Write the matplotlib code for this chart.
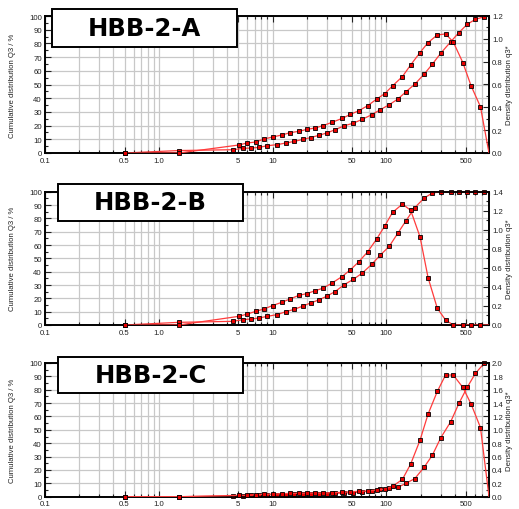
import matplotlib
matplotlib.use('Agg')
import matplotlib.pyplot as plt
from matplotlib.ticker import FixedLocator, NullFormatter, MultipleLocator, LogLocator, FixedFormatter, FormatStrFormatter
from matplotlib.patches import Rectangle

plt.rcParams['font.family'] = ['Liberation Sans', 'DejaVu Sans']

# ---------------- data ----------------
x_ticks = [0.1, 0.5, 1.0, 5, 10, 50, 100, 500]
x_tick_labels = ['0.1', '0.5', '1.0', '5', '10', '50', '100', '500']

panel_titles = ['HBB-2-A', 'HBB-2-B', 'HBB-2-C']
density_max = [1.2, 1.4, 2.0]

# particle size (um) for density q3* points and cumulative Q3 points
dens_x = [0.5, 1.5, 5.05, 6.0, 7.1, 8.4, 10.0, 12.0, 14.3, 17.1, 20.1, 23.4, 27.7, 33.2,
          40.9, 48.3, 57.2, 68.6, 82.2, 97.2, 113.5, 138.8, 164, 198, 233, 281, 332,
          388, 471, 557, 673, 800]
cum_x = [0.5, 1.5, 4.5, 5.5, 6.5, 7.6, 9.0, 11.0, 13.1, 15.6, 18.6, 21.6, 25.5, 30.0,
         35.5, 42.8, 51.4, 61.2, 74.3, 88.5, 106, 126, 149, 178, 215, 254, 301,
         368, 435, 514, 608, 729]

dens_A = [0.0, 0.0, 0.070, 0.088, 0.096, 0.122, 0.140, 0.157, 0.178, 0.190, 0.207, 0.218,
          0.239, 0.268, 0.303, 0.338, 0.370, 0.414, 0.472, 0.521, 0.588, 0.670, 0.772,
          0.880, 0.967, 1.034, 1.043, 0.973, 0.792, 0.588, 0.405, 0.0]
cum_A = [0.0, 1.8, 2.4, 3.4, 3.6, 4.1, 5.3, 6.1, 7.3, 8.5, 10.0, 11.2, 12.9, 14.6, 17.0,
         19.9, 21.8, 24.5, 27.9, 31.6, 35.2, 39.3, 44.7, 50.2, 57.5, 64.8, 72.8, 81.1,
         87.9, 93.9, 97.6, 99.5]

dens_B = [0.0, 0.0, 0.091, 0.115, 0.143, 0.168, 0.204, 0.237, 0.274, 0.312, 0.330, 0.358,
          0.386, 0.439, 0.509, 0.579, 0.663, 0.768, 0.902, 1.042, 1.183, 1.270, 1.204,
          0.926, 0.498, 0.175, 0.053, 0.0, 0.0, 0.0, 0.0, 0.0]
cum_B = [0.0, 2.0, 2.75, 4.0, 4.5, 5.25, 6.5, 7.8, 10.0, 11.8, 14.3, 16.5, 18.8, 21.6,
         25.1, 30.3, 34.3, 38.8, 45.4, 52.4, 58.9, 68.7, 78.2, 88.0, 95.2, 99.0, 100,
         100, 100, 100, 100, 100]

dens_C = [0.0, 0.0, 0.02, 0.02, 0.03, 0.035, 0.04, 0.045, 0.05, 0.05, 0.055, 0.055, 0.055,
          0.06, 0.065, 0.075, 0.08, 0.085, 0.10, 0.115, 0.155, 0.26, 0.49, 0.845, 1.235,
          1.575, 1.82, 1.82, 1.635, 1.385, 1.035, 0.0]
cum_C = [0.0, 0.0, 0.5, 0.7, 1.0, 1.0, 1.3, 1.5, 1.6, 1.8, 2.0, 2.0, 2.2, 2.3, 2.5, 2.8,
         3.0, 3.5, 4.5, 5.5, 6.3, 7.0, 10.0, 13.5, 22.0, 31.0, 44.0, 56.0, 69.75, 81.75,
         92.25, 100.0]

dens_series = [dens_A, dens_B, dens_C]
cum_series = [cum_A, cum_B, cum_C]

# ---------------- layout ----------------
W, H = 519, 510
fig = plt.figure(figsize=(W / 100, H / 100), dpi=100)

ax_left, ax_right = 45, 489
panel_px = [(17, 154), (192.7, 326), (364, 497.7)]      # top, bottom
box_px = [(52, 10, 237, 48), (58, 185, 243, 222), (58, 358, 243, 394)]

FS = 5.6
LINE_C = '#ff3b3b'
FACE_C = '#e80000'
GRID_C = '#c8c8c8'
TXT_C = '#222222'
MS = 3.4

for i in range(3):
    top, bot = panel_px[i]
    ax = fig.add_axes([ax_left / W, 1 - bot / H, (ax_right - ax_left) / W, (bot - top) / H])
    ax2 = ax.twinx()

    ax.set_xscale('log')
    ax.set_xlim(0.1, 800)
    ax.set_ylim(0, 100)
    ax2.set_ylim(0, density_max[i])

    ax.xaxis.set_major_locator(FixedLocator(x_ticks))
    ax.xaxis.set_major_formatter(FixedFormatter(x_tick_labels))
    ax.xaxis.set_minor_locator(LogLocator(base=10, subs=[2, 3, 4, 6, 7, 8, 9]))
    ax.xaxis.set_minor_formatter(NullFormatter())
    ax.yaxis.set_major_locator(MultipleLocator(10))
    ax.yaxis.set_minor_locator(MultipleLocator(5))
    ax2.yaxis.set_major_locator(MultipleLocator(0.2))
    ax2.yaxis.set_minor_locator(MultipleLocator(0.1))
    ax2.yaxis.set_major_formatter(FormatStrFormatter('%.1f'))

    ax.grid(True, which='both', axis='x', color=GRID_C, lw=0.9)
    ax.grid(True, which='major', axis='y', color=GRID_C, lw=0.9)
    ax.set_axisbelow(True)

    ax.tick_params(which='both', direction='in', top=True, labelsize=FS,
                   colors=TXT_C, width=0.8)
    ax.tick_params(axis='x', which='both', pad=2.6)
    ax.tick_params(axis='y', which='both', pad=2.2)
    ax.tick_params(which='major', length=4)
    ax.tick_params(which='minor', length=2.5)
    ax2.tick_params(which='both', direction='in', labelsize=FS, pad=2.2,
                    colors=TXT_C, width=0.8)
    ax2.tick_params(which='major', length=4)
    ax2.tick_params(which='minor', length=2.5)

    for a in (ax, ax2):
        for s in a.spines.values():
            s.set_linewidth(1.2)
            s.set_color('black')

    ax.set_ylabel('Cumulative distribution Q3 / %', fontsize=FS, color=TXT_C)
    ax.yaxis.set_label_coords((16.5 - ax_left) / (ax_right - ax_left), 0.5)
    ax2.set_ylabel('Density distribution q3*', fontsize=FS, color=TXT_C)
    ax2.yaxis.set_label_coords((506 - ax_left) / (ax_right - ax_left), 0.5)

    # cumulative on left axis
    ax.plot(cum_x, cum_series[i], color=LINE_C, lw=0.9, zorder=3)
    ax.plot(cum_x, cum_series[i], ls='none', marker='s', ms=MS, mfc=FACE_C, mec='black',
            mew=0.6, zorder=4, clip_on=False)
    # density on right axis
    ax2.plot(dens_x, dens_series[i], color=LINE_C, lw=0.9, zorder=3)
    ax2.plot(dens_x[:-1], dens_series[i][:-1], ls='none', marker='s', ms=MS, mfc=FACE_C,
             mec='black', mew=0.6, zorder=4, clip_on=False)

    # title box
    x0, y0, x1, y1 = box_px[i]
    rect = Rectangle((x0 / W, 1 - y1 / H), (x1 - x0) / W, (y1 - y0) / H,
                     transform=fig.transFigure, facecolor='white', edgecolor='black',
                     lw=1.4, zorder=10)
    fig.add_artist(rect)
    fig.text((x0 + x1) / 2 / W, 1 - (y0 + y1) / 2 / H, panel_titles[i],
             ha='center', va='center', fontsize=17.5, fontweight='bold',
             family=['DejaVu Sans'], color='black', zorder=11)

fig.savefig('out.png', dpi=100)
